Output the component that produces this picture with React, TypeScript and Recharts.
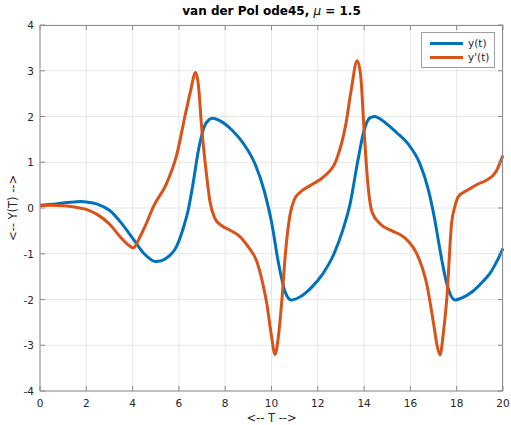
import React from 'react';
import { LineChart, Line, XAxis, YAxis, CartesianGrid } from 'recharts';

const X_TICKS = [0, 2, 4, 6, 8, 10, 12, 14, 16, 18, 20];
const Y_TICKS = [-4, -3, -2, -1, 0, 1, 2, 3, 4];

const yT = [0, 0.5, 1, 1.5, 1.75, 2, 2.5, 3, 3.5, 4, 4.5, 5, 5.5, 5.9, 6.2, 6.4, 6.6, 6.85, 7.1, 7.3, 7.45, 7.8, 8.3, 8.8, 9.3, 9.7, 10, 10.3, 10.6, 10.85, 11.2, 11.7, 12.2, 12.7, 13.1, 13.4, 13.7, 14, 14.25, 14.45, 14.9, 15.4, 15.9, 16.4, 16.78, 17.05, 17.28, 17.57, 17.93, 18.2, 18.7, 19.2, 19.45, 19.7, 20];
const yVal = [0.06, 0.08, 0.11, 0.13, 0.14, 0.13, 0.08, -0.05, -0.32, -0.66, -1.0, -1.17, -1.08, -0.84, -0.42, -0.05, 0.5, 1.28, 1.78, 1.93, 1.96, 1.9, 1.7, 1.4, 0.95, 0.35, -0.3, -1.2, -1.85, -2.01, -1.95, -1.75, -1.45, -1.0, -0.45, 0.1, 0.95, 1.7, 1.97, 2.0, 1.87, 1.65, 1.4, 0.98, 0.39, -0.25, -0.92, -1.65, -2.01, -1.97, -1.82, -1.57, -1.42, -1.2, -0.88];

const dyT = [0, 0.5, 1, 1.5, 2, 2.5, 3, 3.5, 3.8, 4.03, 4.3, 4.6, 4.9, 5.47, 5.9, 6.26, 6.5, 6.72, 6.85, 6.98, 7.17, 7.35, 7.55, 7.8, 8.2, 8.65, 9, 9.35, 9.6, 9.8, 10, 10.15, 10.3, 10.45, 10.6, 10.8, 11, 11.25, 11.7, 12.25, 12.8, 13.2, 13.45, 13.7, 13.85, 14, 14.15, 14.35, 14.7, 15.2, 15.55, 15.9, 16.27, 16.7, 17, 17.15, 17.28, 17.42, 17.57, 17.78, 17.93, 18.07, 18.5, 18.9, 19.3, 19.7, 20];
const dyVal = [0.05, 0.06, 0.05, 0.02, -0.03, -0.15, -0.35, -0.65, -0.8, -0.87, -0.65, -0.33, 0.03, 0.54, 1.15, 2.0, 2.55, 2.96, 2.65, 1.78, 0.83, 0.12, -0.22, -0.37, -0.48, -0.63, -0.85, -1.15, -1.6, -2.1, -2.8, -3.2, -2.8, -2.0, -1.0, -0.15, 0.2, 0.35, 0.5, 0.68, 1.05, 1.8, 2.6, 3.22, 2.9, 1.7, 0.6, -0.1, -0.35, -0.5, -0.58, -0.72, -0.99, -1.65, -2.52, -3.0, -3.21, -2.75, -2.0, -0.33, 0.05, 0.25, 0.4, 0.52, 0.61, 0.8, 1.15];

const yData = yT.map((t, i) => ({ t, v: yVal[i] }));
const dyData = dyT.map((t, i) => ({ t, v: dyVal[i] }));

const BLUE = '#0072BD';
const ORANGE = '#D95319';
const AXIS = '#8c8c8c';
const TEXT = '#262626';
const FONT = 'DejaVu Sans, sans-serif';

// plot box
const PLOT_W = 463;
const PLOT_H = 366;
const TICK_LEN = 5;
const X_MARGIN = 12;
const Y_MARGIN = 6;

const XTick = (props: any) => {
  const { x, y, payload } = props;
  const base = y - X_MARGIN;
  return (
    <g>
      <line x1={x} x2={x} y1={base} y2={base - TICK_LEN} stroke={AXIS} />
      <line x1={x} x2={x} y1={base - PLOT_H} y2={base - PLOT_H + TICK_LEN} stroke={AXIS} />
      <text x={x} y={y} dy={4} textAnchor="middle" fill={TEXT} fontSize={10.5} fontFamily={FONT}>
        {payload.value}
      </text>
    </g>
  );
};

const YTick = (props: any) => {
  const { x, y, payload } = props;
  const base = x + Y_MARGIN;
  return (
    <g>
      <line x1={base} x2={base + TICK_LEN} y1={y} y2={y} stroke={AXIS} />
      <line x1={base + PLOT_W} x2={base + PLOT_W - TICK_LEN} y1={y} y2={y} stroke={AXIS} />
      <text x={x} y={y} dy={4} textAnchor="end" fill={TEXT} fontSize={10.5} fontFamily={FONT}>
        {payload.value}
      </text>
    </g>
  );
};

const App: React.FC = () => {
  return (
    <div style={{ position: 'absolute', left: 0, top: 0, width: 511, height: 425, background: '#fff', fontFamily: FONT }}>
      <div
        style={{
          position: 'absolute',
          top: 4,
          left: 40,
          width: PLOT_W,
          textAlign: 'center',
          fontWeight: 'bold',
          fontSize: 12,
          color: '#000',
        }}
      >
        van der Pol ode45, <span style={{ fontStyle: 'italic', fontWeight: 'normal' }}>μ</span> = 1.5
      </div>
      <div style={{ position: 'absolute', top: 411, left: 40, width: PLOT_W, textAlign: 'center', fontSize: 11.5, color: TEXT }}>
        {'<-- T -->'}
      </div>
      <div
        style={{
          position: 'absolute',
          left: 13,
          top: 208,
          transform: 'translate(-50%, -50%) rotate(-90deg)',
          fontSize: 11.5,
          color: TEXT,
          whiteSpace: 'nowrap',
        }}
      >
        {'<-- Y(T) -->'}
      </div>
      <LineChart width={511} height={425} margin={{ top: 25, right: 8, left: 0, bottom: 0 }}>
        <CartesianGrid xAxisId="main" yAxisId="main" stroke="#e6e6e6" strokeWidth={1} />
        <XAxis
          xAxisId="main"
          dataKey="t"
          type="number"
          domain={[0, 20]}
          ticks={X_TICKS}
          height={34}
          stroke={AXIS}
          tickLine={false}
          tickSize={0}
          tickMargin={X_MARGIN}
          tick={<XTick />}
          allowDuplicatedCategory={false}
        />
        <YAxis
          yAxisId="main"
          type="number"
          domain={[-4, 4]}
          ticks={Y_TICKS}
          width={40}
          stroke={AXIS}
          tickLine={false}
          tickSize={0}
          tickMargin={Y_MARGIN}
          tick={<YTick />}
        />
        <Line
          xAxisId="main"
          yAxisId="main"
          data={yData}
          dataKey="v"
          name="y(t)"
          type="monotone"
          stroke={BLUE}
          strokeWidth={3}
          dot={false}
          isAnimationActive={false}
        />
        <Line
          xAxisId="main"
          yAxisId="main"
          data={dyData}
          dataKey="v"
          name="y'(t)"
          type="monotone"
          stroke={ORANGE}
          strokeWidth={3}
          dot={false}
          isAnimationActive={false}
        />
      </LineChart>
      <div
        style={{
          position: 'absolute',
          left: 40,
          top: 25,
          width: PLOT_W - 1,
          height: PLOT_H - 1,
          borderTop: `1px solid ${AXIS}`,
          borderRight: `1px solid ${AXIS}`,
          pointerEvents: 'none',
        }}
      />
      <div
        style={{
          position: 'absolute',
          top: 32,
          left: 421,
          border: '1px solid #a0a0a0',
          background: '#fff',
          padding: '3px 5px 3px 8px',
          fontSize: 10.5,
          color: TEXT,
          lineHeight: '14px',
        }}
      >
        {[
          { name: 'y(t)', color: BLUE },
          { name: "y'(t)", color: ORANGE },
        ].map((e) => (
          <div key={e.name} style={{ display: 'flex', alignItems: 'center' }}>
            <span style={{ display: 'inline-block', width: 33, height: 3, background: e.color, marginRight: 5 }} />
            {e.name}
          </div>
        ))}
      </div>
    </div>
  );
};

export default App;
